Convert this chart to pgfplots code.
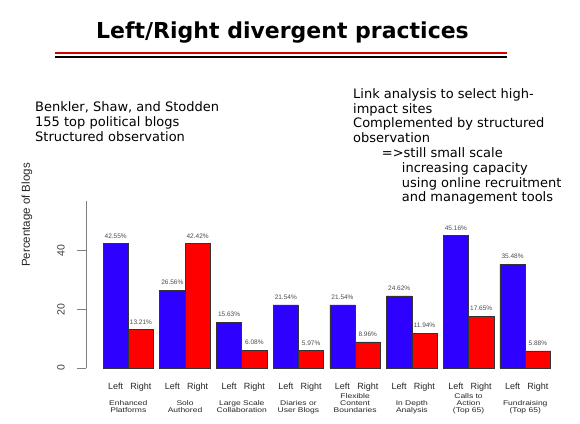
\documentclass[border=0pt]{standalone}
\usepackage{fontspec}
\setmainfont{DejaVu Sans}
\newfontfamily\rfont{Liberation Sans}
\usepackage{graphicx}
\usepackage{pgfplots}
\pgfplotsset{compat=1.18}

\definecolor{rblue}{RGB}{45,0,255}
\definecolor{rred}{RGB}{255,0,0}
\definecolor{rulered}{RGB}{210,0,0}

% share of blogs (%) per practice
\pgfplotstableread{
x left right
1 42.55 13.21
2 26.56 42.42
3 15.63 6.08
4 21.54 5.97
5 21.54 8.96
6 24.62 11.94
7 45.16 17.65
8 35.48 5.88
}\blogdata

\newcommand{\catfont}{\rfont\fontsize{8.5}{9}\selectfont}
\newcommand{\catlab}[3]{\node[anchor=base, inner sep=0pt, yshift=#2, font=\catfont, text=black!85] at (axis cs:#1,0) {\scalebox{1}[0.8]{#3}};}

\begin{document}
\begin{tikzpicture}
\path[fill=white, use as bounding box] (0pt,0pt) rectangle (580pt,-423pt);

% title and rule
\node[anchor=base west, inner sep=0pt, font=\fontsize{22}{27}\selectfont\bfseries] at (96pt,-38.3pt) {Left/Right divergent practices};
\draw[rulered, line width=1.5pt] (55pt,-53.2pt) -- (507pt,-53.2pt);
\draw[black, line width=2.2pt] (55pt,-56.9pt) -- (507pt,-56.9pt);

% text blocks
\begin{scope}[every node/.style={anchor=base west, inner sep=0pt, font=\fontsize{13}{15}\selectfont}]
  \node at (35pt,-111pt) {Benkler, Shaw, and Stodden};
  \node at (35pt,-126pt) {155 top political blogs};
  \node at (35pt,-141pt) {Structured observation};

  \node at (353pt,-98.3pt) {Link analysis to select high-};
  \node at (353pt,-113.1pt) {impact sites};
  \node at (353pt,-127.9pt) {Complemented by structured};
  \node at (353pt,-142.7pt) {observation};
  \node at (381.7pt,-157.5pt) {=>still small scale};
  \node at (401.7pt,-172.3pt) {increasing capacity};
  \node at (401.7pt,-187.1pt) {using online recruitment};
  \node at (401.7pt,-201.9pt) {and management tools};
\end{scope}

\begin{axis}[
  at={(86pt,-368pt)}, anchor=south west,
  scale only axis, width=467.6pt, height=167pt,
  xmin=0.254, xmax=8.5, ymin=0, ymax=57,
  ybar, bar width=0.446,
  axis x line*=bottom, axis y line*=left,
  x axis line style={draw=none},
  y axis line style={draw=gray, line width=0.8pt, -},
  xtick={0.777,1.223,1.777,2.223,2.777,3.223,3.777,4.223,4.777,5.223,5.777,6.223,6.777,7.223,7.777,8.223},
  xticklabels={Left,Right,Left,Right,Left,Right,Left,Right,Left,Right,Left,Right,Left,Right,Left,Right},
  xtick style={draw=none},
  xticklabel style={font=\rfont\fontsize{9}{10}\selectfont, text=black!85, anchor=base, yshift=-12pt},
  ytick={0,20,40},
  ytick style={draw=gray, line width=0.8pt},
  tick align=outside, major tick length=9pt,
  yticklabel style={rotate=90, anchor=base, yshift=12.5pt, font=\rfont\fontsize{10.5}{12}\selectfont, text=black!75},
  /pgf/number format/assume math mode=true,
  clip=false,
  nodes near coords={\pgfmathprintnumber[fixed, fixed zerofill, precision=2]{\pgfplotspointmeta}\%},
  nodes near coords style={anchor=base, yshift=5.3pt, font=\rfont\fontsize{6.5}{7}\selectfont, text=black!70},
]
\addplot[fill=rblue, draw=black!80, line width=0.5pt, bar shift=-0.223] table[x=x, y=left] {\blogdata};
\addplot[fill=rred, draw=black!80, line width=0.5pt, bar shift=0.223] table[x=x, y=right] {\blogdata};

\catlab{1}{-37.5pt}{Enhanced}
\catlab{1}{-44.5pt}{Platforms}
\catlab{2}{-37.5pt}{Solo}
\catlab{2}{-44.5pt}{Authored}
\catlab{3}{-37.5pt}{Large Scale}
\catlab{3}{-44.5pt}{Collaboration}
\catlab{4}{-37.5pt}{Diaries or}
\catlab{4}{-44.5pt}{User Blogs}
\catlab{5}{-30.5pt}{Flexible}
\catlab{5}{-37.5pt}{Content}
\catlab{5}{-44.5pt}{Boundaries}
\catlab{6}{-37.5pt}{In Depth}
\catlab{6}{-44.5pt}{Analysis}
\catlab{7}{-30.5pt}{Calls to}
\catlab{7}{-37.5pt}{Action}
\catlab{7}{-44.5pt}{(Top 65)}
\catlab{8}{-37.5pt}{Fundraising}
\catlab{8}{-44.5pt}{(Top 65)}
\end{axis}

\node[rotate=90, inner sep=0pt, font=\rfont\fontsize{11.5}{13}\selectfont, text=black!85] at (27pt,-215pt) {Percentage of Blogs};
\end{tikzpicture}
\end{document}
